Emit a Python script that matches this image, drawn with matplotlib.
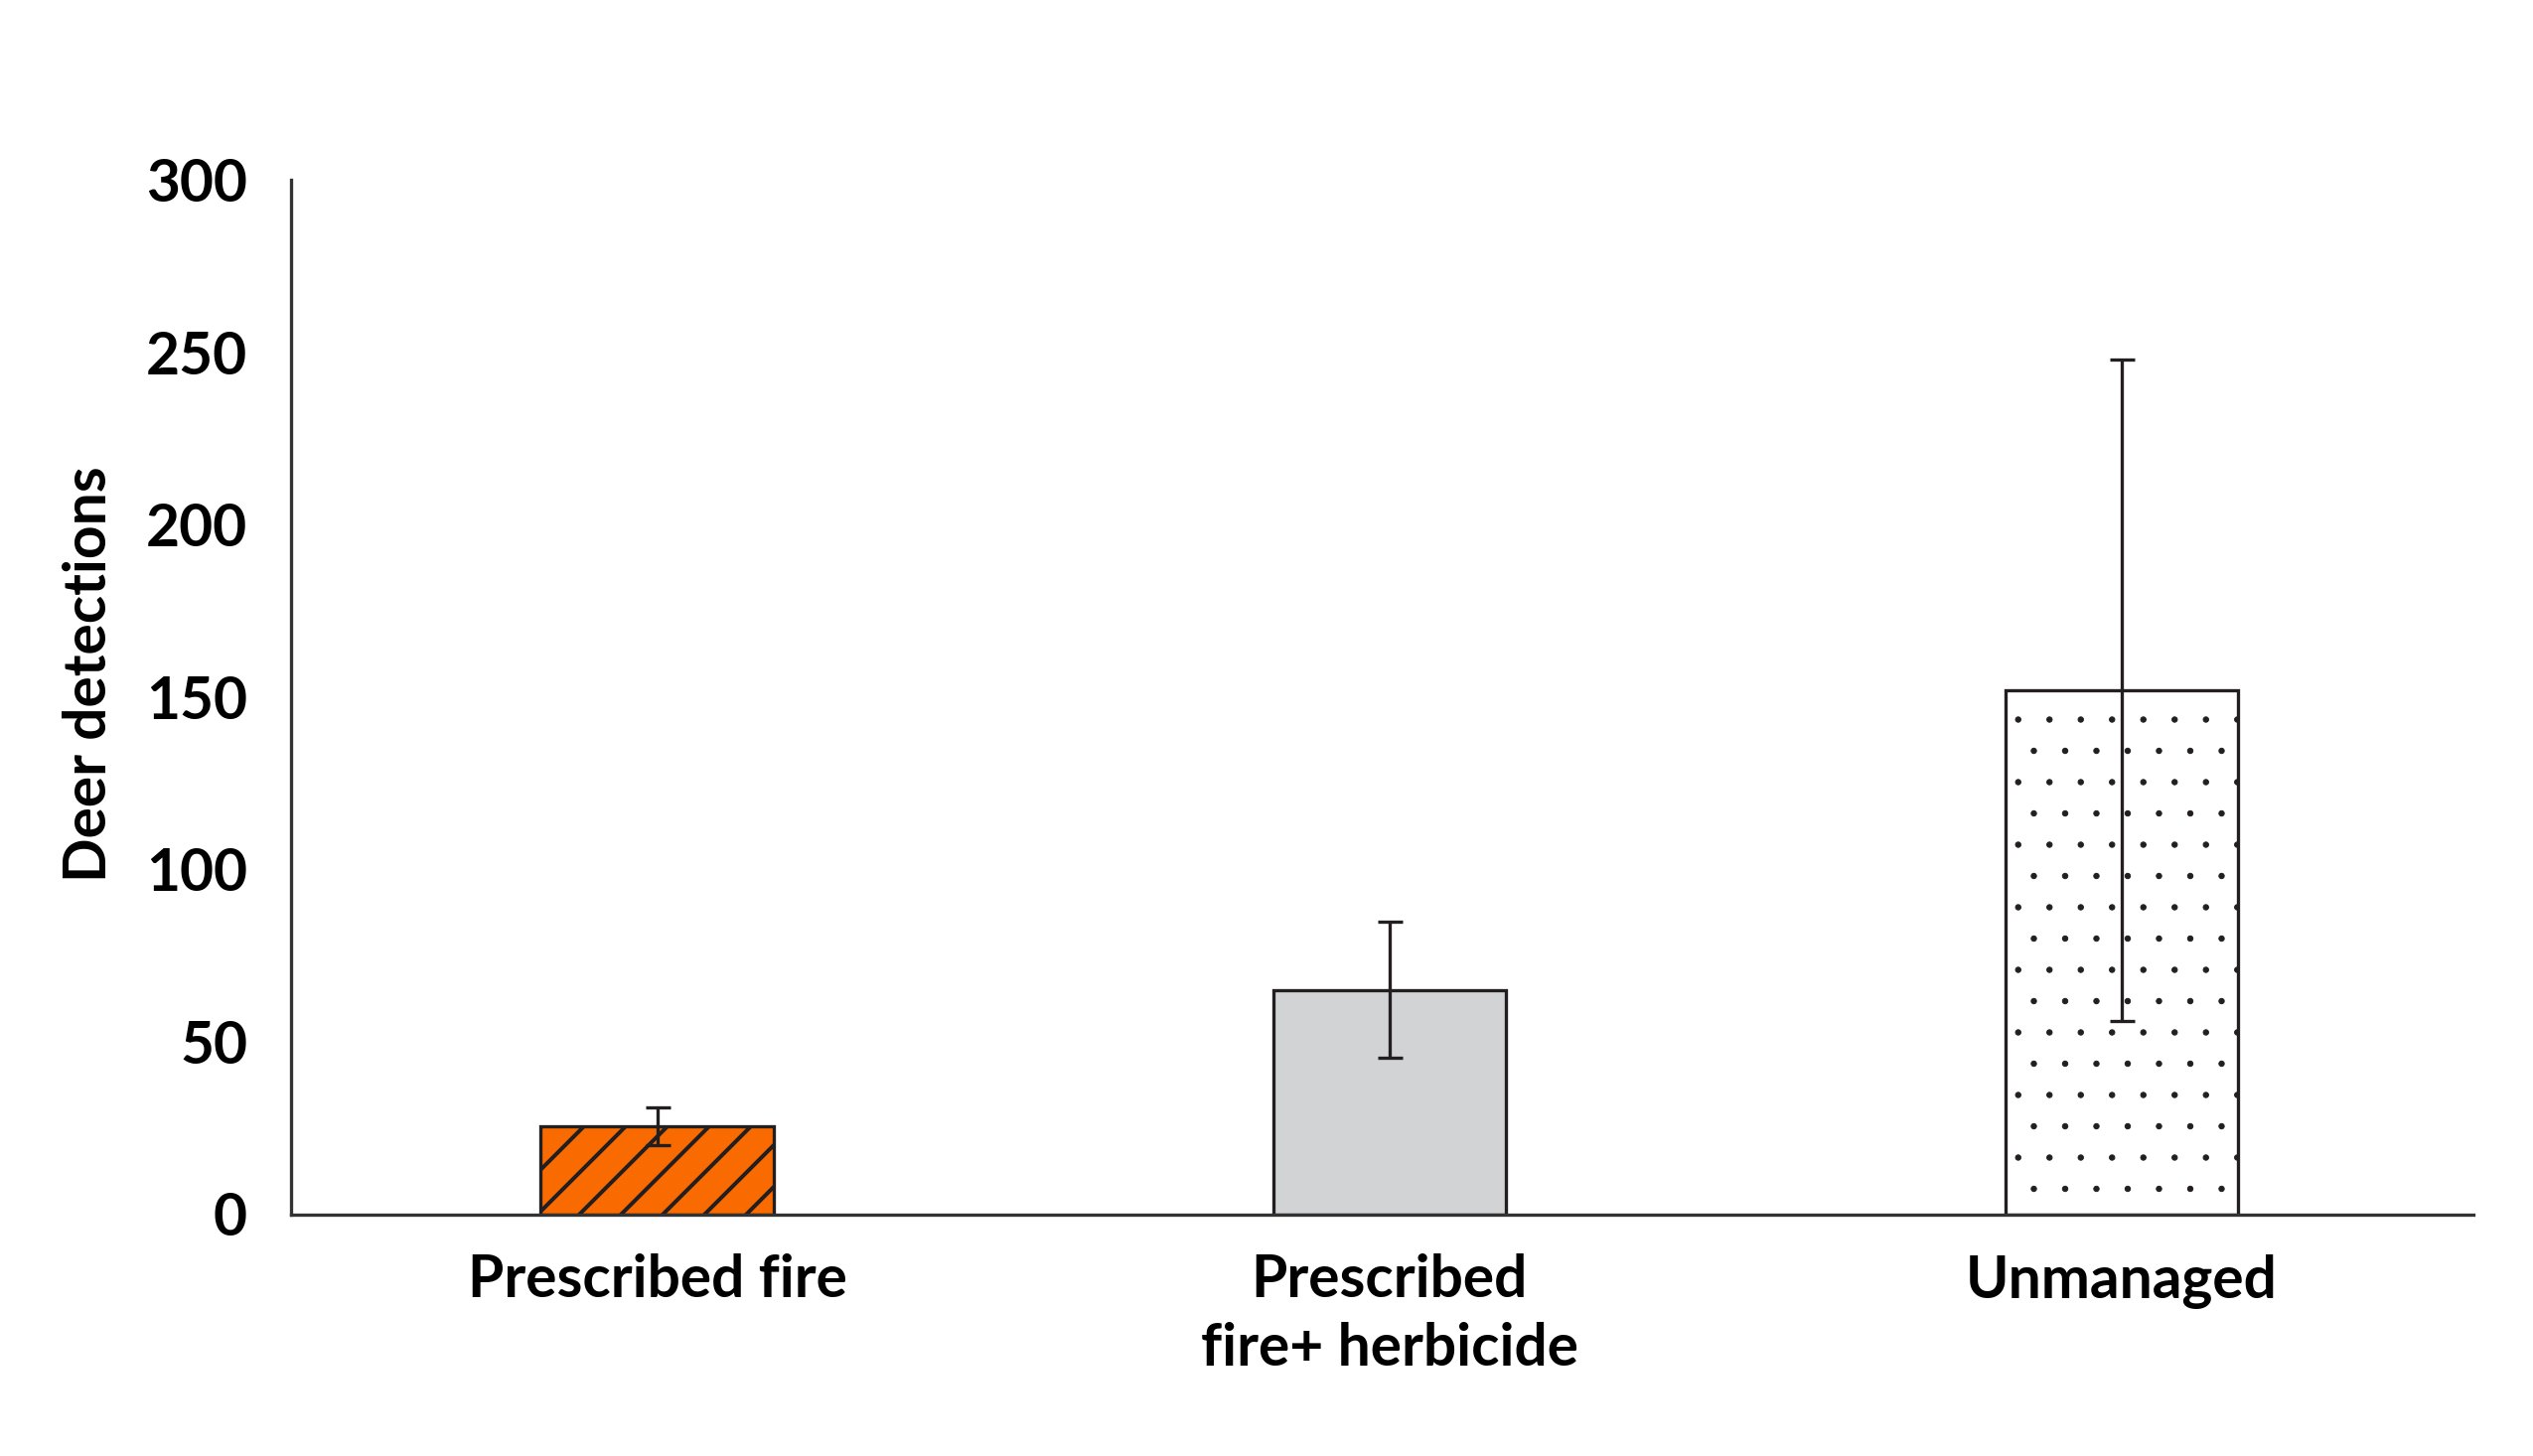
import numpy as np
import matplotlib
matplotlib.use("Agg")
import matplotlib.pyplot as plt
import matplotlib.hatch as mhatch

# ---- data ----
categories = ["Prescribed fire", "Prescribed\nfire+ herbicide", "Unmanaged"]
detections = [25.5, 65, 152]
errors = [5.5, 19.7, 96]
y_ticks = [0, 50, 100, 150, 200, 250, 300]
y_label = "Deer detections"

# ---- styles ----
bar_colors = ["#F96B00", "#D1D3D4", "#FFFFFF"]
bar_hatches = ["//", None, "."]
edge = "#231F20"

DPI = 252


def pt(px):
    """pixels -> points at the output dpi"""
    return px * 72.0 / DPI


# sparser dot texture for the '.' hatch
class SparseDots(mhatch.Circles):
    size = 0.085
    filled = True

    def __init__(self, hatch, density):
        self.num_rows = hatch.count('.') * 8
        super().__init__(hatch, density)


mhatch._hatch_types = [SparseDots if t is mhatch.SmallFilledCircles else t
                       for t in mhatch._hatch_types]

plt.rcParams['font.family'] = ['Lato', 'DejaVu Sans']
plt.rcParams['font.weight'] = 'bold'
plt.rcParams['hatch.linewidth'] = pt(4.0)

FS = pt(58.7)

fig = plt.figure(figsize=(2550 / DPI, 1466 / DPI), dpi=DPI)
ax = fig.add_axes([293 / 2550, 1 - 1222.5 / 1466, (2490 - 293) / 2550, (1222.5 - 181) / 1466])

x = np.arange(len(categories))
bars = ax.bar(x, detections, width=0.318, color=bar_colors, edgecolor=edge,
              linewidth=pt(3.3), zorder=2)
for b, h in zip(bars, bar_hatches):
    if h:
        b.set_hatch(h)
        if h == '.' and hasattr(b, 'set_hatch_linewidth'):
            b.set_hatch_linewidth(pt(1.0))

ax.errorbar(x, detections, yerr=errors, fmt='none', ecolor=edge,
            elinewidth=pt(3.3), capsize=pt(12.5), capthick=pt(3.3), zorder=3)

ax.set_xlim(-0.5, 2.48)
ax.set_ylim(0, 300)
ax.set_yticks(y_ticks)
ax.set_xticks(x)
ax.set_xticklabels(categories, fontsize=FS, fontweight='bold', color='black',
                   linespacing=1.33)
ax.tick_params(axis='both', length=0, labelsize=FS, colors='black')
ax.tick_params(axis='y', pad=pt(44))
ax.tick_params(axis='x', pad=pt(40))
for lbl in ax.get_yticklabels():
    lbl.set_fontweight('bold')

ax.set_ylabel(y_label, fontsize=FS, fontweight='bold', color='black')
ax.yaxis.set_label_coords(-0.080, 0.5226)

for s in ['top', 'right']:
    ax.spines[s].set_visible(False)
for s in ['left', 'bottom']:
    ax.spines[s].set_color('#333333')
    ax.spines[s].set_linewidth(pt(3.3))
    ax.spines[s].set_zorder(4)

fig.savefig("out.png", dpi=DPI)
